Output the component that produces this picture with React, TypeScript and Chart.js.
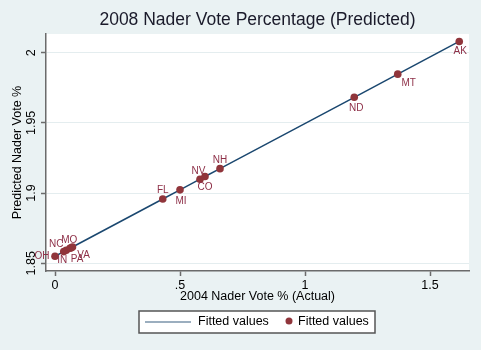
import React, { useEffect, useRef } from 'react';
import { Chart, registerables } from 'chart.js';

Chart.register(...registerables);

// ---- data ----
const states = ['OH', 'IN', 'NC', 'PA', 'MO', 'VA', 'FL', 'MI', 'CO', 'NV', 'NH', 'ND', 'MT', 'AK'];
const actual2004 = [0, 0.035, 0.045, 0.06, 0.065, 0.07, 0.431, 0.5, 0.58, 0.6, 0.66, 1.197, 1.371, 1.617];
const predicted2008 = [1.855, 1.8583, 1.8593, 1.8607, 1.8611, 1.8616, 1.8958, 1.9023, 1.9099, 1.9118, 1.9174, 1.9682, 1.9847, 2.008];
const yTicks = [1.85, 1.9, 1.95, 2];
const yTickLabels = ['1.85', '1.9', '1.95', '2'];
const xTicks = [0, 0.5, 1, 1.5];
const xTickLabels = ['0', '.5', '1', '1.5'];
const lineLabel = 'Fitted values';
const pointLabel = 'Fitted values';
const chartTitle = '2008 Nader Vote Percentage (Predicted)';
const xTitle = '2004 Nader Vote % (Actual)';
const yTitle = 'Predicted Nader Vote %';

// label placement (style): offsets of each state's label from its marker
const labelOffsets: Record<string, [number, number]> = {
  OH: [-13, 0], IN: [-1.5, 9], NC: [-10, -6], PA: [7, 11], MO: [-2, -7], VA: [11, 8],
  FL: [0, -8.5], MI: [1, 11.5], CO: [5, 8], NV: [-6.5, -5], NH: [0, -8],
  ND: [2, 11], MT: [11, 9], AK: [1, 9.5],
};

const FONT = '"Liberation Sans", Arial, sans-serif';
const BG = '#EAF2F3';
const NAVY = '#1A476F';
const MAROON = '#90353B';
const AXIS = '#6b6b6b';

const decor = {
  id: 'decor',
  beforeDraw(chart: any) {
    const { ctx, chartArea: a } = chart;
    ctx.save();
    ctx.fillStyle = BG;
    ctx.fillRect(0, 0, chart.width, chart.height);
    ctx.fillStyle = '#ffffff';
    ctx.fillRect(a.left, a.top, a.right - a.left, a.bottom - a.top);
    ctx.restore();
  },
  afterDraw(chart: any) {
    const { ctx, chartArea: a } = chart;
    const xs = chart.scales.x;
    const ys = chart.scales.y;
    ctx.save();
    // title
    ctx.fillStyle = '#1a1a2a';
    ctx.font = `17.5px ${FONT}`;
    ctx.textAlign = 'center';
    ctx.textBaseline = 'middle';
    ctx.fillText(chartTitle, (a.left + a.right) / 2, 20);

    // y tick labels (rotated)
    ctx.fillStyle = '#000';
    ctx.font = `12.5px ${FONT}`;
    yTicks.forEach((v, i) => {
      const py = ys.getPixelForValue(v);
      ctx.save();
      ctx.translate(32, py);
      ctx.rotate(-Math.PI / 2);
      ctx.textAlign = 'center';
      ctx.textBaseline = 'middle';
      ctx.fillText(yTickLabels[i], 0, 0);
      ctx.restore();
    });

    // marker labels
    ctx.fillStyle = '#8E3048';
    ctx.font = `10px ${FONT}`;
    ctx.textAlign = 'center';
    ctx.textBaseline = 'middle';
    states.forEach((s, i) => {
      const px = xs.getPixelForValue(actual2004[i]);
      const py = ys.getPixelForValue(predicted2008[i]);
      const off = labelOffsets[s] || [8, 0];
      ctx.fillText(s, px + off[0], py + off[1]);
    });

    // legend
    const lx = 139, ly = 311, lw = 236, lh = 22;
    ctx.fillStyle = '#ffffff';
    ctx.fillRect(lx, ly, lw, lh);
    ctx.strokeStyle = '#555';
    ctx.lineWidth = 1.5;
    ctx.strokeRect(lx, ly, lw, lh);
    const cy = ly + lh / 2;
    ctx.strokeStyle = '#7a93aa';
    ctx.lineWidth = 1.5;
    ctx.beginPath();
    ctx.moveTo(145, cy);
    ctx.lineTo(191, cy);
    ctx.stroke();
    ctx.fillStyle = '#000';
    ctx.font = `12.5px ${FONT}`;
    ctx.textAlign = 'left';
    ctx.textBaseline = 'middle';
    ctx.fillText(chart.data.datasets[1].label, 198, cy);
    ctx.fillStyle = MAROON;
    ctx.beginPath();
    ctx.arc(289, cy - 1, 3.5, 0, Math.PI * 2);
    ctx.fill();
    ctx.fillStyle = '#000';
    ctx.fillText(chart.data.datasets[0].label, 298, cy);
    ctx.restore();
  },
};

export default function App() {
  const ref = useRef<HTMLCanvasElement>(null);
  useEffect(() => {
    if (!ref.current) return;
    const pts = actual2004.map((x, i) => ({ x, y: predicted2008[i] }));
    const chart = new Chart(ref.current, {
      type: 'scatter',
      data: {
        datasets: [
          {
            type: 'scatter',
            label: pointLabel,
            data: pts,
            backgroundColor: MAROON,
            borderColor: MAROON,
            borderWidth: 0,
            pointRadius: 3.8,
            clip: false,
          } as any,
          {
            type: 'line',
            label: lineLabel,
            data: pts,
            borderColor: NAVY,
            borderWidth: 1.5,
            pointRadius: 0,
            fill: false,
            tension: 0,
            showLine: true,
          } as any,
        ],
      },
      options: {
        animation: false,
        responsive: false,
        devicePixelRatio: 1,
        layout: { padding: { top: 34, right: 12, bottom: 45, left: 0 } },
        plugins: { legend: { display: false }, tooltip: { enabled: false }, title: { display: false } },
        scales: {
          x: {
            type: 'linear',
            min: -0.036,
            max: 1.656,
            afterBuildTicks: (s: any) => { s.ticks = xTicks.map((v) => ({ value: v })); },
            afterFit: (s: any) => { s.height = 34; },
            ticks: {
              callback: (v: any) => { const i = xTicks.indexOf(Number(v)); return i >= 0 ? xTickLabels[i] : ''; },
              font: { family: FONT, size: 12.5 },
              color: '#000',
              padding: 2,
              maxRotation: 0,
              autoSkip: false,
            },
            grid: { drawOnChartArea: false, drawTicks: true, tickLength: 5, tickColor: AXIS, tickWidth: 1.5 },
            border: { color: AXIS, width: 1.5 },
            title: { display: true, text: xTitle, font: { family: FONT, size: 12.5 }, color: '#000', padding: { top: 0, bottom: 1 } },
          },
          y: {
            type: 'linear',
            min: 1.8445,
            max: 2.0133,
            afterBuildTicks: (s: any) => { s.ticks = yTicks.map((v) => ({ value: v })); },
            afterFit: (s: any) => { s.width = 46; },
            ticks: { display: false },
            grid: { drawOnChartArea: true, color: '#E4EDEF', lineWidth: 1, drawTicks: true, tickLength: 5, tickColor: AXIS, tickWidth: 1.5 },
            border: { color: AXIS, width: 1.5 },
            title: { display: true, text: yTitle, font: { family: FONT, size: 12.5 }, color: '#000', padding: { top: 10, bottom: 0 } },
          },
        },
      },
      plugins: [decor],
    } as any);
    return () => chart.destroy();
  }, []);
  return (
    <div style={{ position: 'fixed', left: 0, top: 0, width: 481, height: 350 }}>
      <canvas ref={ref} width={481} height={350} style={{ display: 'block' }} />
    </div>
  );
}
